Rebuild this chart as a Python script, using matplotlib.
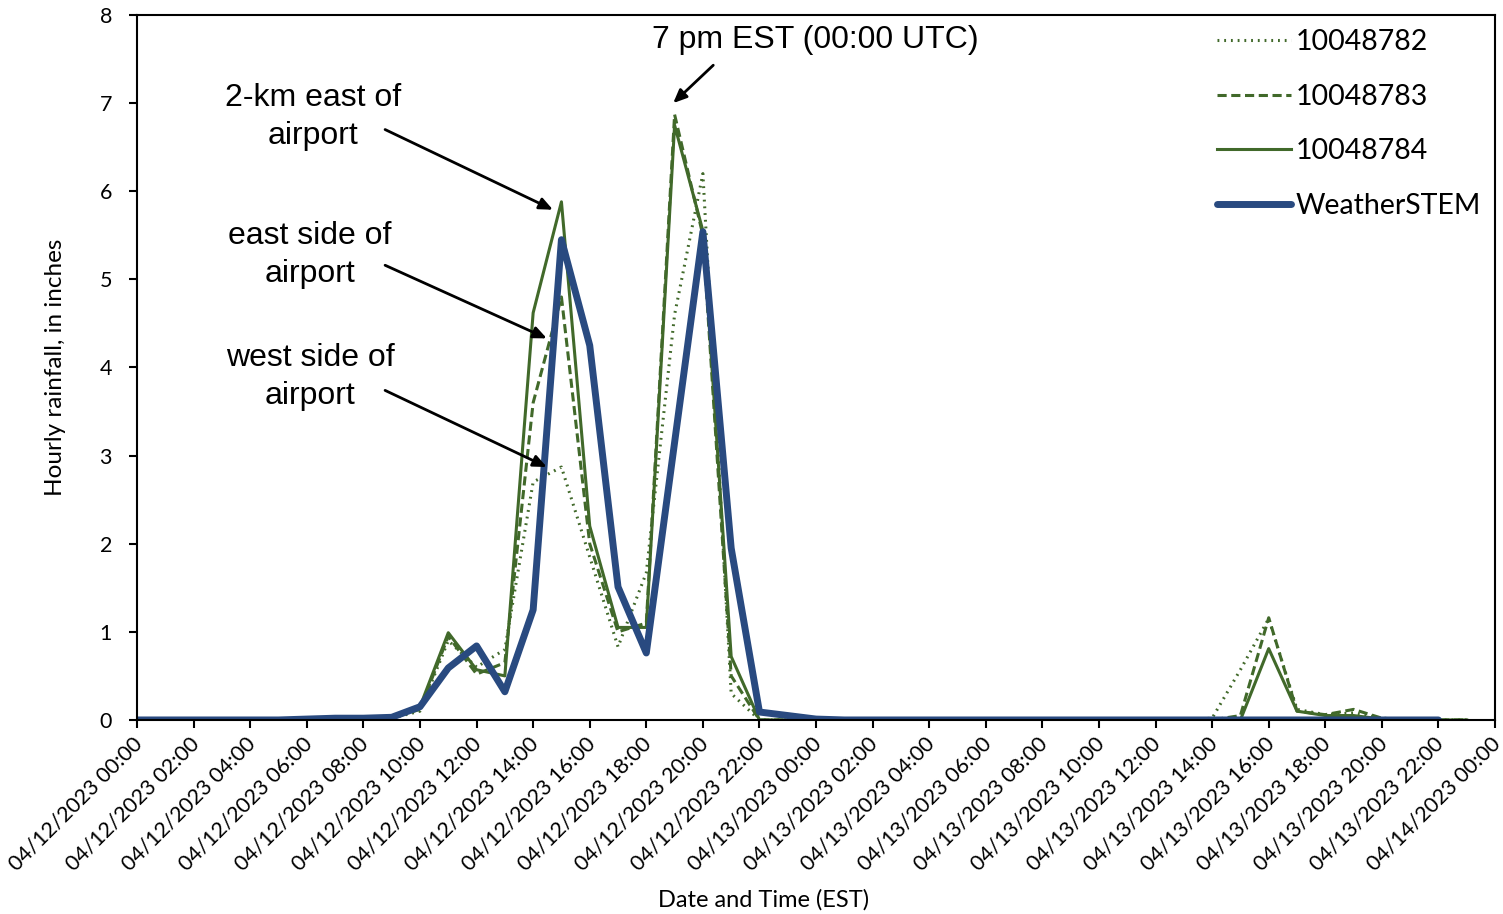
import pandas as pd
import matplotlib.pyplot as plt
import matplotlib.dates as mdates
from matplotlib.transforms import ScaledTranslation

# hourly rainfall, 04/12/2023 00:00 onwards (EST)
times = pd.date_range("2023-04-12 00:00", periods=48, freq="h")

rain_782 = [0, 0, 0, 0, 0, 0, 0.01, 0.01, 0.01, 0.02,
            0.10, 0.90, 0.60, 0.80, 2.70, 2.87, 1.85, 0.83, 1.67, 4.60,
            6.20, 0.30, 0, 0, 0, 0, 0, 0, 0, 0,
            0, 0, 0, 0, 0, 0, 0, 0, 0.02, 0.57,
            1.15, 0.12, 0.06, 0.08, 0.02, 0, 0, 0]
rain_783 = [0, 0, 0, 0, 0, 0, 0.01, 0.01, 0.01, 0.02,
            0.12, 0.95, 0.52, 0.65, 3.60, 4.80, 2.00, 1.00, 1.10, 6.87,
            5.50, 0.50, 0, 0, 0, 0, 0, 0, 0, 0,
            0, 0, 0, 0, 0, 0, 0, 0, 0, 0.05,
            1.16, 0.10, 0.06, 0.12, 0.02, 0, 0, 0]
rain_784 = [0, 0, 0, 0, 0, 0, 0.01, 0.01, 0.01, 0.02,
            0.15, 0.99, 0.57, 0.50, 4.62, 5.88, 2.20, 1.05, 1.05, 6.75,
            5.55, 0.72, 0, 0, 0, 0, 0, 0, 0, 0,
            0, 0, 0, 0, 0, 0, 0, 0, 0, 0,
            0.81, 0.10, 0.05, 0.05, 0.01, 0, 0, 0]
rain_stem = [0, 0, 0, 0, 0, 0, 0.01, 0.02, 0.02, 0.03,
             0.15, 0.59, 0.84, 0.32, 1.25, 5.45, 4.25, 1.51, 0.76, 3.15,
             5.54, 1.95, 0.09, 0.05, 0.01, 0, 0, 0, 0, 0,
             0, 0, 0, 0, 0, 0, 0, 0, 0, 0,
             0, 0, 0, 0, 0, 0, 0]

green = "#41692a"
blue = "#294a80"
plt.rcParams["font.family"] = ["Lato", "DejaVu Sans"]

fig = plt.figure(figsize=(15.03, 9.14), dpi=100)
ax = fig.add_axes([0.0912, 0.2123, 0.9035, 0.7713])

ax.plot(times, rain_782, color=green, lw=2.2, ls=(0, (0.6, 1.6)), label="10048782")
ax.plot(times, rain_783, color=green, lw=2.2, ls=(0, (3, 1.5)), label="10048783")
ax.plot(times, rain_784, color=green, lw=2.2, ls="-", label="10048784")
ax.plot(times[:len(rain_stem)], rain_stem, color=blue, lw=5, solid_capstyle="round",
        label="WeatherSTEM")

ax.set_xlim(pd.Timestamp("2023-04-12 00:00"), pd.Timestamp("2023-04-14 00:00"))
ax.set_ylim(0, 8)
ax.xaxis.set_major_locator(mdates.HourLocator(interval=2))
ax.xaxis.set_major_formatter(mdates.DateFormatter("%m/%d/%Y %H:%M"))
ax.tick_params(axis="both", labelsize=15.5, length=6, width=1.5, color="black")
ax.tick_params(axis="y", pad=12)
shift = ScaledTranslation(-5 / 100, 0, fig.dpi_scale_trans)
for lab in ax.get_xticklabels():
    lab.set_rotation(45)
    lab.set_ha("right")
    lab.set_rotation_mode("anchor")
    lab.set_transform(lab.get_transform() + shift)
for s in ax.spines.values():
    s.set_linewidth(1.5)

ax.set_xlabel("Date and Time (EST)", fontsize=17, va="center")
ax.xaxis.set_label_coords(0.461, -0.255)
ax.set_ylabel("Hourly rainfall, in inches", fontsize=17.5, labelpad=24)

ax.legend(loc="upper right", frameon=False, fontsize=20.5, handlelength=2.6,
          handletextpad=0.15, labelspacing=1.0, borderaxespad=0.1)

# annotations
afont = dict(fontsize=23, family="Liberation Sans", ha="center", va="center",
             linespacing=1.35)
arrow = dict(arrowstyle="-|>,head_length=0.8,head_width=0.35", color="black", lw=2,
             shrinkA=0, shrinkB=0)
ax.text(pd.Timestamp("2023-04-12 23:58"), 7.72, "7 pm EST (00:00 UTC)", **afont)
ax.annotate("", xy=(pd.Timestamp("2023-04-12 18:57"), 7.0),
            xytext=(pd.Timestamp("2023-04-12 20:22"), 7.43), arrowprops=arrow)
ax.text(pd.Timestamp("2023-04-12 06:13"), 6.84, "2-km east of\nairport", **afont)
ax.annotate("", xy=(pd.Timestamp("2023-04-12 14:42"), 5.79),
            xytext=(pd.Timestamp("2023-04-12 08:46"), 6.70), arrowprops=arrow)
ax.text(pd.Timestamp("2023-04-12 06:07"), 5.28, "east side of\nairport", **afont)
ax.annotate("", xy=(pd.Timestamp("2023-04-12 14:29"), 4.33),
            xytext=(pd.Timestamp("2023-04-12 08:46"), 5.16), arrowprops=arrow)
ax.text(pd.Timestamp("2023-04-12 06:07"), 3.89, "west side of\nairport", **afont)
ax.annotate("", xy=(pd.Timestamp("2023-04-12 14:29"), 2.87),
            xytext=(pd.Timestamp("2023-04-12 08:46"), 3.74), arrowprops=arrow)

fig.savefig("out.png", dpi=100)
